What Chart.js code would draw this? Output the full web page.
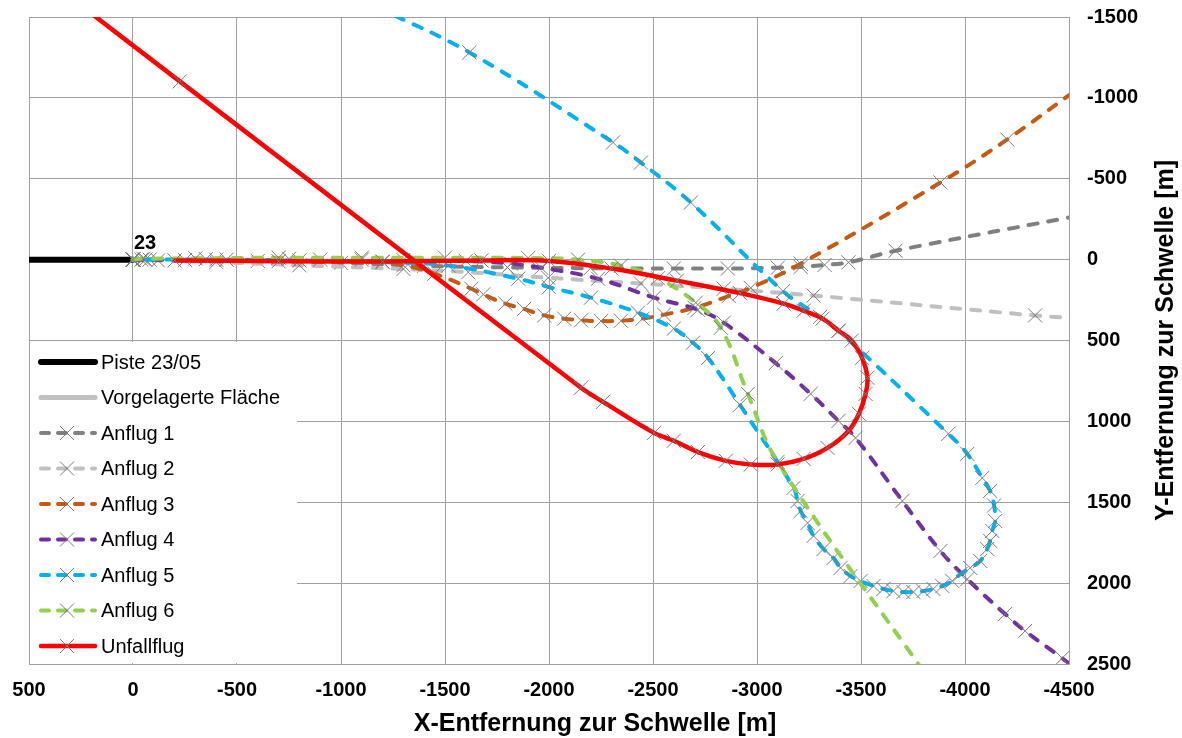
<!DOCTYPE html>
<html lang="de">
<head>
<meta charset="utf-8">
<title>Anflüge Piste 23</title>
<script src="https://cdn.jsdelivr.net/npm/chart.js@4.4.1/dist/chart.umd.min.js"></script>
<style>
  html, body { margin: 0; padding: 0; background: #fff; }
  #wrap { width: 1182px; height: 738px; }
</style>
</head>
<body>
<div id="wrap"><canvas id="chart" width="1182" height="738"></canvas></div>
<script>
const FONT = "'Liberation Sans', Arial, Helvetica, sans-serif";
const GRID = "#a0a0a0";
const MARK = "#7a7a7a";

// ---- Daten (x, y in m) ----
const xTicks = [500, 0, -500, -1000, -1500, -2000, -2500, -3000, -3500, -4000, -4500];
const yTicks = [-1500, -1000, -500, 0, 500, 1000, 1500, 2000, 2500];

const seriesNames = ["Piste 23/05", "Vorgelagerte Fläche", "Anflug 1", "Anflug 2", "Anflug 3", "Anflug 4", "Anflug 5", "Anflug 6", "Unfallflug"];

const piste = [[500, 0], [0, 0]];
const vorfeld = [[0, 0], [-90, 0]];

const anflug1 = [[0, 0], [-40, 0], [-250, 3], [-600, 8], [-1000, 20], [-1400, 38], [-1800, 48], [-2200, 53], [-2600, 55],
  [-2860, 55], [-3100, 50], [-3210, 45], [-3325, 33], [-3440, 17], [-3666, -55], [-4600, -285]];

const anflug2 = [[0, 0], [-120, 5], [-400, 15], [-800, 35], [-1300, 58], [-1612, 78], [-1996, 112], [-2442, 148],
  [-2840, 180], [-3272, 222], [-4337, 345], [-4600, 368]];

const anflug3 = [[0, 0], [-60, 0], [-350, -3], [-750, -5], [-1100, 0], [-1300, 35], [-1449, 87], [-1627, 180], [-1684, 215],
  [-1790, 272], [-1880, 305], [-1977, 345], [-2073, 365], [-2154, 375], [-2250, 380], [-2346, 378], [-2450, 365],
  [-2553, 340], [-2700, 298], [-2864, 225], [-2970, 175], [-3210, 25], [-3882, -477], [-4203, -743], [-4600, -1110]];

const anflug4 = [[0, 0], [-80, 0], [-450, 0], [-900, 0], [-1300, 2], [-1600, 8], [-1818, 25], [-1962, 50], [-2236, 118],
  [-2505, 235], [-2716, 310], [-2840, 390], [-3090, 640], [-3258, 830], [-3392, 997], [-3474, 1102], [-3699, 1492],
  [-3882, 1801], [-4011, 1975], [-4193, 2191], [-4289, 2296], [-4467, 2464], [-4560, 2560]];

const anflug5 = [[-1174, -1560], [-1617, -1281], [-2308, -725], [-2442, -600], [-2682, -353], [-3125, 195], [-3303, 354],
  [-3392, 440], [-3920, 1077], [-4011, 1201], [-4083, 1350], [-4121, 1430], [-4140, 1520], [-4145, 1616], [-4131, 1677],
  [-4121, 1739], [-4107, 1789], [-4073, 1863], [-4025, 1906], [-3978, 1944], [-3939, 1987], [-3891, 2018], [-3848, 2036],
  [-3800, 2049], [-3752, 2055], [-3704, 2055], [-3656, 2049], [-3608, 2036], [-3560, 2018], [-3498, 1987], [-3450, 1956],
  [-3402, 1906], [-3368, 1845], [-3320, 1789], [-3272, 1708], [-3243, 1628], [-3210, 1554], [-3195, 1492], [-3176, 1411],
  [-2918, 898], [-2765, 608], [-2692, 514], [-2600, 427], [-2428, 328], [-2202, 235], [-2000, 170], [-1852, 118],
  [-1516, 37], [-1200, 15], [-800, 5], [-400, 0], [0, 0]];

const anflug6 = [[0, 0], [-50, -5], [-300, -8], [-700, -12], [-1100, -12], [-1500, -12], [-1900, -10], [-2140, 0],
  [-2346, 37], [-2524, 115], [-2706, 266], [-2826, 421], [-2956, 830], [-3099, 1250], [-3830, 2600]];

const unfallflug = [[239, -1560], [-225, -1102], [-2154, 792], [-2260, 879], [-2505, 1071], [-2600, 1120], [-2716, 1190],
  [-2850, 1244], [-2970, 1266], [-3099, 1266], [-3224, 1232], [-3339, 1164], [-3440, 1059], [-3490, 953], [-3522, 830],
  [-3531, 730], [-3505, 607], [-3455, 501], [-3392, 440], [-3315, 365], [-3224, 316], [-3128, 272], [-2918, 207],
  [-2615, 130], [-2300, 55], [-2000, 8], [-1675, 5], [-1200, 12], [-700, 10], [-200, 5]];

const seriesData = [piste, vorfeld, anflug1, anflug2, anflug3, anflug4, anflug5, anflug6, unfallflug];

const thresholdLabel = "23";
const xTitle = "X-Entfernung zur Schwelle [m]";
const yTitle = "Y-Entfernung zur Schwelle [m]";

// ---- Darstellung ----
const DASH = [9, 11];
const styles = [
  { color: "#000000", width: 6, dash: [], marker: false },
  { color: "#c0c0c0", width: 5, dash: [], marker: false },
  { color: "#808080", width: 4, dash: DASH, marker: true },
  { color: "#c0c0c0", width: 4, dash: DASH, marker: true },
  { color: "#c55a11", width: 4, dash: DASH, marker: true },
  { color: "#7030a0", width: 4, dash: DASH, marker: true },
  { color: "#00b0f0", width: 4, dash: DASH, marker: true },
  { color: "#92d050", width: 4, dash: DASH, marker: true },
  { color: "#ff0000", width: 4.5, dash: [], marker: true },
];

const datasets = seriesNames.map((name, i) => {
  const st = styles[i];
  return {
    label: name,
    data: seriesData[i].map(([x, y]) => ({ x, y })),
    showLine: true,
    borderColor: st.color,
    borderWidth: st.width,
    borderDash: st.dash,
    borderCapStyle: "round",
    borderJoinStyle: "round",
    tension: 0.4,
    pointStyle: "crossRot",
    pointRadius: st.marker ? 10 : 0,
    pointHoverRadius: 0,
    pointBorderColor: MARK,
    pointBackgroundColor: MARK,
    pointBorderWidth: 1,
    order: seriesNames.length - i,
  };
});

function drawCross(ctx, cx, cy, r) {
  ctx.save();
  ctx.strokeStyle = MARK;
  ctx.lineWidth = 1;
  ctx.beginPath();
  ctx.moveTo(cx - r, cy - r); ctx.lineTo(cx + r, cy + r);
  ctx.moveTo(cx + r, cy - r); ctx.lineTo(cx - r, cy + r);
  ctx.stroke();
  ctx.restore();
}

const overlay = {
  id: "overlay",
  afterDraw(chart) {
    const { ctx, scales: { x, y } } = chart;
    const area = chart.chartArea;

    ctx.save();
    ctx.fillStyle = "#000";
    ctx.font = `bold 20px ${FONT}`;
    ctx.textAlign = "left";
    ctx.textBaseline = "alphabetic";
    ctx.fillText(thresholdLabel, x.getPixelForValue(0) + 1, y.getPixelForValue(0) - 11);

    ctx.font = `bold 25px ${FONT}`;
    ctx.textAlign = "center";
    ctx.fillText(xTitle, 595, 731);
    ctx.translate(1173, (area.top + area.bottom) / 2);
    ctx.rotate(-Math.PI / 2);
    ctx.fillText(yTitle, 0, 0);
    ctx.restore();

    // Legende unten links im Diagramm
    ctx.save();
    ctx.fillStyle = "#fff";
    ctx.fillRect(area.left + 1, 342, 267, area.bottom - 342 - 1);
    ctx.font = `20px ${FONT}`;
    ctx.textBaseline = "middle";
    ctx.textAlign = "left";
    seriesNames.forEach((name, i) => {
      const st = styles[i];
      const cy = 362 + i * 35.5;
      ctx.save();
      ctx.strokeStyle = st.color;
      ctx.lineWidth = st.width;
      ctx.lineCap = "round";
      ctx.setLineDash(st.dash.length ? [8, 9] : []);
      ctx.beginPath();
      ctx.moveTo(41, cy);
      ctx.lineTo(95, cy);
      ctx.stroke();
      ctx.restore();
      if (st.marker) drawCross(ctx, 67, cy, 7);
      ctx.fillStyle = "#000";
      ctx.fillText(name, 101, cy + 1);
    });
    ctx.restore();
  },
};

const plain = (v) => String(v);

new Chart(document.getElementById("chart"), {
  type: "scatter",
  data: { datasets },
  options: {
    responsive: false,
    animation: false,
    devicePixelRatio: 1,
    layout: { padding: { left: 29, top: 17, right: 0, bottom: 0 } },
    elements: { line: { capBezierPoints: false } },
    plugins: { legend: { display: false }, tooltip: { enabled: false }, title: { display: false } },
    scales: {
      x: {
        type: "linear",
        position: "bottom",
        reverse: true,
        min: Math.min(...xTicks),
        max: Math.max(...xTicks),
        afterBuildTicks: (s) => { s.ticks = xTicks.map((v) => ({ value: v })); },
        afterFit: (s) => { s.height = 74; s.paddingLeft = 0; s.paddingRight = 0; },
        grid: { color: GRID, lineWidth: 1, drawTicks: false },
        border: { color: GRID, width: 1 },
        ticks: { color: "#000", padding: 14, maxRotation: 0, autoSkip: false, callback: plain, font: { family: FONT, size: 20, weight: "bold" } },
      },
      y: {
        type: "linear",
        position: "right",
        reverse: true,
        min: Math.min(...yTicks),
        max: Math.max(...yTicks),
        afterBuildTicks: (s) => { s.ticks = yTicks.map((v) => ({ value: v })); },
        afterFit: (s) => { s.width = 113; s.paddingTop = 0; s.paddingBottom = 0; },
        grid: { color: GRID, lineWidth: 1, drawTicks: false },
        border: { color: GRID, width: 1 },
        ticks: { color: "#000", padding: 18, autoSkip: false, callback: plain, font: { family: FONT, size: 20, weight: "bold" } },
      },
    },
  },
  plugins: [overlay],
});
</script>
</body>
</html>
